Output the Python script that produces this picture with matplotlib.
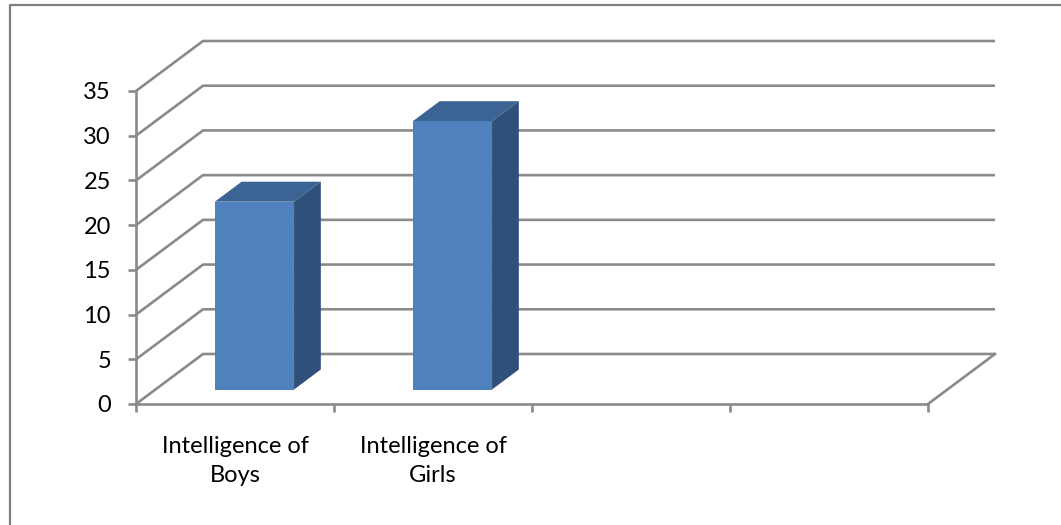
import numpy as np
import matplotlib
matplotlib.use("Agg")
import matplotlib.pyplot as plt
from matplotlib.patches import Polygon
from matplotlib.lines import Line2D

# data
categories = ["Intelligence of\nBoys", "Intelligence of\nGirls", "", ""]
values = [21, 30, np.nan, np.nan]
yticks = [0, 5, 10, 15, 20, 25, 30, 35]

# 3d look (depth offset in data units)
DX = 67 / 198.0
DY = 50 / 8.943
F0, F1 = 0.29, 0.69          # bar depth span (fraction of wall depth)
BAR_W = 0.4

GRID = "#8a8a8a"
FRONT = "#4F81BD"
TOP = "#3B6494"
SIDE = "#2F5079"
FONT = "Lato"
FS = 17

fig = plt.figure(figsize=(10.61, 5.25), dpi=100)
ax = fig.add_axes([136 / 1061, 121 / 525, 859 / 1061, 363 / 525])
n = len(categories)
ax.set_xlim(0, n + DX)
ax.set_ylim(0, yticks[-1] + DY)


def p(x, y, f):
    return (x + f * DX, y + f * DY)


# back wall + side wall gridlines
for t in yticks:
    xs = [0, DX, n + DX]
    ys = [t, t + DY, t + DY]
    ax.plot(xs, ys, color=GRID, lw=1.9, solid_capstyle="butt", zorder=1, clip_on=False)
# floor right edge
ax.plot([n, n + DX], [0, DY], color=GRID, lw=1.9, zorder=1, clip_on=False)

# 3d bars
for i, v in enumerate(values):
    if np.isnan(v):
        continue
    x0, x1 = i + 0.5 - BAR_W / 2, i + 0.5 + BAR_W / 2
    top = [p(x0, v, F0), p(x1, v, F0), p(x1, v, F1), p(x0, v, F1)]
    side = [p(x1, 0, F0), p(x1, 0, F1), p(x1, v, F1), p(x1, v, F0)]
    front = [p(x0, 0, F0), p(x1, 0, F0), p(x1, v, F0), p(x0, v, F0)]
    ax.add_patch(Polygon(top, closed=True, fc=TOP, ec="none", zorder=3))
    ax.add_patch(Polygon(side, closed=True, fc=SIDE, ec="none", zorder=3))
    ax.add_patch(Polygon(front, closed=True, fc=FRONT, ec="none", zorder=4))

# axes (front plane)
for s in ["top", "right"]:
    ax.spines[s].set_visible(False)
ax.spines["left"].set_bounds(0, yticks[-1])
ax.spines["bottom"].set_bounds(0, n)
for s in ["left", "bottom"]:
    ax.spines[s].set_color(GRID)
    ax.spines[s].set_linewidth(1.9)
    ax.spines[s].set_zorder(5)

ax.set_yticks(yticks)
ax.set_yticklabels([str(t) for t in yticks], fontfamily=FONT, fontsize=FS)
ax.tick_params(axis="y", length=6, width=1.9, color=GRID, pad=12)

ax.set_xticks(range(n + 1))
ax.set_xticklabels([])
ax.tick_params(axis="x", which="major", length=6, width=1.9, color=GRID)
ax.set_xticks([i + 0.5 for i in range(n)], minor=True)
ax.set_xticklabels(categories, minor=True, fontfamily=FONT, fontsize=FS, linespacing=1.45)
ax.tick_params(axis="x", which="minor", length=0, pad=23)

# outer chart frame
fig.add_artist(Line2D([10 / 1061, 10 / 1061, 1], [0, 520 / 525, 520 / 525],
                      transform=fig.transFigure, color="#808080", lw=1.6))

fig.savefig("out.png", dpi=100)
